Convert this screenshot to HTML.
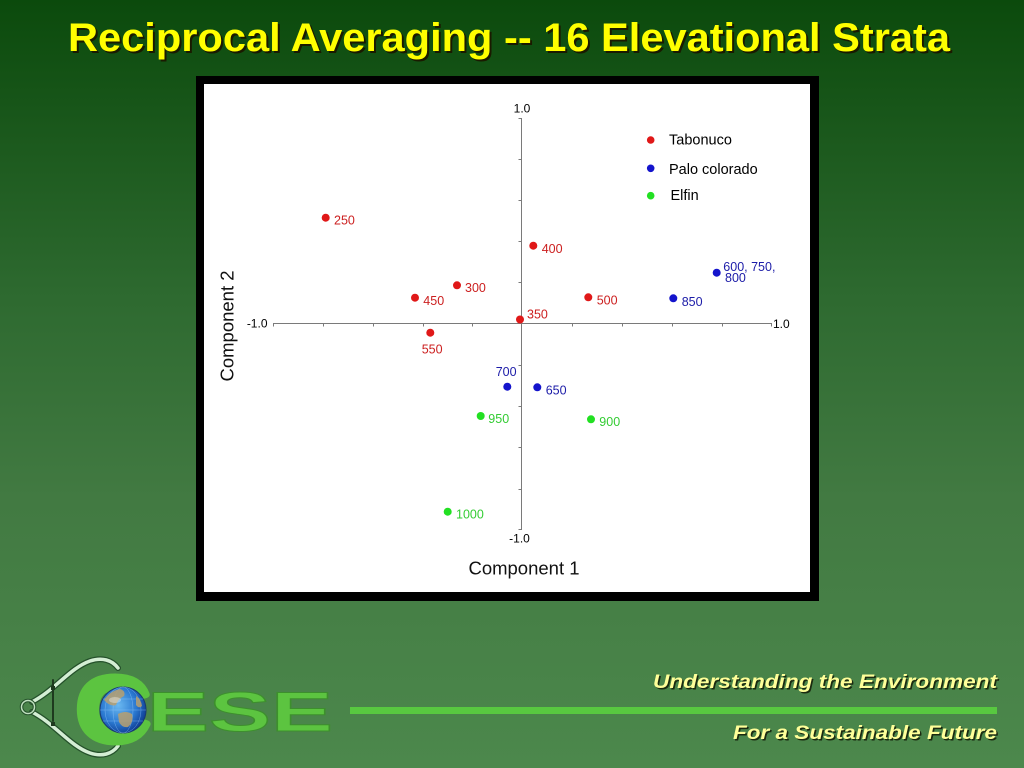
<!DOCTYPE html>
<html><head><meta charset="utf-8"><style>
html,body{margin:0;padding:0;width:1024px;height:768px;overflow:hidden;background:#2e6a30;}
svg{display:block;}
text{font-family:"Liberation Sans",Arial,sans-serif;}
</style></head><body>
<svg width="1024" height="768" viewBox="0 0 1024 768" xmlns="http://www.w3.org/2000/svg">
<defs>
<linearGradient id="bg" x1="0" y1="0" x2="0" y2="1">
<stop offset="0" stop-color="#0b4a0c"/>
<stop offset="0.39" stop-color="#2e6a30"/>
<stop offset="0.65" stop-color="#427a42"/>
<stop offset="1" stop-color="#4c884c"/>
</linearGradient>
<radialGradient id="globe" cx="0.4" cy="0.4" r="0.65">
<stop offset="0" stop-color="#6ab8f0"/>
<stop offset="0.6" stop-color="#2a78d0"/>
<stop offset="1" stop-color="#0e3a90"/>
</radialGradient>
</defs>
<rect x="0" y="0" width="1024" height="768" fill="url(#bg)"/>

<!-- Title -->
<text x="70" y="53" font-size="40" font-weight="bold" fill="#1a1a00" textLength="882" lengthAdjust="spacingAndGlyphs">Reciprocal Averaging -- 16 Elevational Strata</text>
<text x="68" y="51" font-size="40" font-weight="bold" fill="#ffff00" textLength="882" lengthAdjust="spacingAndGlyphs">Reciprocal Averaging -- 16 Elevational Strata</text>

<!-- Chart frame -->
<rect x="196" y="76" width="623" height="525" fill="#000"/>
<rect x="204" y="84" width="606" height="508" fill="#fff"/>

<!-- Axes -->
<g stroke="#7a7a7a" stroke-width="1" fill="none">
<line x1="273" y1="323.5" x2="772" y2="323.5"/>
<line x1="521.5" y1="118" x2="521.5" y2="530"/>
<path d="M273.5,323.5v3 M323.5,323.5v3 M373.5,323.5v3 M423.5,323.5v3 M472.5,323.5v3 M572.5,323.5v3 M622.5,323.5v3 M672.5,323.5v3 M722.5,323.5v3 M771.5,323.5v3"/>
<path d="M521.5,118.5h-3 M521.5,159.5h-3 M521.5,200.5h-3 M521.5,241.5h-3 M521.5,282.5h-3 M521.5,365.5h-3 M521.5,406.5h-3 M521.5,447.5h-3 M521.5,489.5h-3 M521.5,529.5h-3"/>
</g>
<g font-size="12" fill="#000">
<text x="522" y="112.5" text-anchor="middle">1.0</text>
<text x="267.5" y="327.5" text-anchor="end">-1.0</text>
<text x="773" y="328">1.0</text>
<text x="519.5" y="542.5" text-anchor="middle">-1.0</text>
</g>
<text x="524" y="574.5" font-size="18.5" fill="#111" text-anchor="middle">Component 1</text>
<text transform="translate(233.5,326) rotate(-90)" font-size="18.5" fill="#111" text-anchor="middle">Component 2</text>

<!-- Legend -->
<circle cx="650.7" cy="140" r="3.8" fill="#e01818"/>
<circle cx="650.7" cy="168.3" r="3.8" fill="#1414cc"/>
<circle cx="650.7" cy="195.7" r="3.8" fill="#22e022"/>
<g font-size="14.5" fill="#000">
<text x="669" y="144.5">Tabonuco</text>
<text x="669" y="174.2">Palo colorado</text>
<text x="670.5" y="200.2">Elfin</text>
</g>

<!-- Red points -->
<g fill="#e01818">
<circle cx="325.7" cy="217.7" r="4"/>
<circle cx="533.3" cy="245.7" r="4"/>
<circle cx="457" cy="285.3" r="4"/>
<circle cx="415" cy="297.7" r="4"/>
<circle cx="588.3" cy="297.3" r="4"/>
<circle cx="520" cy="319.5" r="4"/>
<circle cx="430.3" cy="332.7" r="4"/>
</g>
<g font-size="12.5" fill="#cc2020">
<text x="334" y="224.5">250</text>
<text x="541.7" y="252.8">400</text>
<text x="465" y="292.2">300</text>
<text x="423.3" y="305.2">450</text>
<text x="596.7" y="304.5">500</text>
<text x="527" y="318.5">350</text>
<text x="421.7" y="353.5">550</text>
</g>

<!-- Blue points -->
<g fill="#1414cc">
<circle cx="716.7" cy="272.7" r="4"/>
<circle cx="673.3" cy="298.3" r="4"/>
<circle cx="507.3" cy="386.7" r="4"/>
<circle cx="537.3" cy="387.3" r="4"/>
</g>
<g font-size="12.5" fill="#1c1ca8">
<text x="723.3" y="271.2">600, 750,</text>
<text x="725" y="282">800</text>
<text x="681.7" y="306.2">850</text>
<text x="495.7" y="376.2">700</text>
<text x="545.7" y="394.5">650</text>
</g>

<!-- Green points -->
<g fill="#22e022">
<circle cx="480.7" cy="416" r="4"/>
<circle cx="591" cy="419.3" r="4"/>
<circle cx="447.7" cy="511.7" r="4"/>
</g>
<g font-size="12.5" fill="#33cc33">
<text x="488.3" y="423.2">950</text>
<text x="599.3" y="426.2">900</text>
<text x="456" y="518.5">1000</text>
</g>

<!-- Footer -->
<rect x="350" y="707" width="647" height="7" fill="#58c840"/>
<g font-size="19" font-weight="bold" font-style="italic">
<text x="654.5" y="689.5" fill="#1a2a10" textLength="344" lengthAdjust="spacingAndGlyphs">Understanding the Environment</text>
<text x="653" y="688" fill="#ffff99" textLength="344" lengthAdjust="spacingAndGlyphs">Understanding the Environment</text>
<text x="734.5" y="740.5" fill="#1a2a10" textLength="264" lengthAdjust="spacingAndGlyphs">For a Sustainable Future</text>
<text x="733" y="739" fill="#ffff99" textLength="264" lengthAdjust="spacingAndGlyphs">For a Sustainable Future</text>
</g>

<!-- Logo: calipers -->
<g fill="none" stroke-linecap="round">
<path d="M32,702 C55,690 70,668 90,661 C102,657 112,660 118,668" stroke="#24502a" stroke-width="6"/>
<path d="M32,712 C55,724 70,746 90,753 C102,757 112,754 118,746" stroke="#24502a" stroke-width="6"/>
<path d="M32,702 C55,690 70,668 90,661 C102,657 112,660 118,668" stroke="#d4eed4" stroke-width="3.5"/>
<path d="M32,712 C55,724 70,746 90,753 C102,757 112,754 118,746" stroke="#d4eed4" stroke-width="3.5"/>
<circle cx="28" cy="707" r="6.5" stroke="#24502a" stroke-width="3.5"/>
<circle cx="28" cy="707" r="6.5" stroke="#bfe0bf" stroke-width="1.5"/>
<line x1="53" y1="680" x2="53" y2="721" stroke="#1e3a1e" stroke-width="2"/>
<rect x="51" y="686" width="4" height="4" fill="#1e3a1e" stroke="none"/>
<rect x="51" y="722" width="4" height="4" fill="#1e3a1e" stroke="none"/>
</g>
<!-- C -->
<text transform="translate(76.5,741) scale(1.1,1)" font-size="92" font-weight="bold" fill="#5cc440" stroke="#5cc440" stroke-width="7" stroke-linejoin="round">C</text>
<!-- ESE -->
<text x="147" y="731" font-size="56" font-weight="bold" fill="#5cc440" stroke="#3d8f2d" stroke-width="1" textLength="186" lengthAdjust="spacingAndGlyphs">ESE</text>
<!-- Globe -->
<circle cx="123" cy="710" r="23" fill="url(#globe)" stroke="#1a3a70" stroke-width="1"/>
<g fill="none" stroke="#9fd0ff" stroke-width="0.5" opacity="0.6">
<ellipse cx="123" cy="710" rx="10" ry="23"/>
<ellipse cx="123" cy="710" rx="18" ry="23"/>
<line x1="100" y1="710" x2="146" y2="710"/>
<line x1="103" y1="699" x2="143" y2="699"/>
<line x1="103" y1="721" x2="143" y2="721"/>
</g>
<g fill="#b8a070" opacity="0.85">
<path d="M104,700 q6,-9 16,-11 q6,2 4,7 q-6,3 -8,9 q-6,2 -12,-5z"/>
<path d="M118,714 q8,-4 14,0 q2,8 -4,13 q-6,1 -9,-5z"/>
<path d="M136,696 q5,3 6,10 q-3,3 -6,-1z"/>
</g>
<g fill="#ffffff" opacity="0.35">
<ellipse cx="115" cy="700" rx="6" ry="3"/>
</g>
</svg>
</body></html>
